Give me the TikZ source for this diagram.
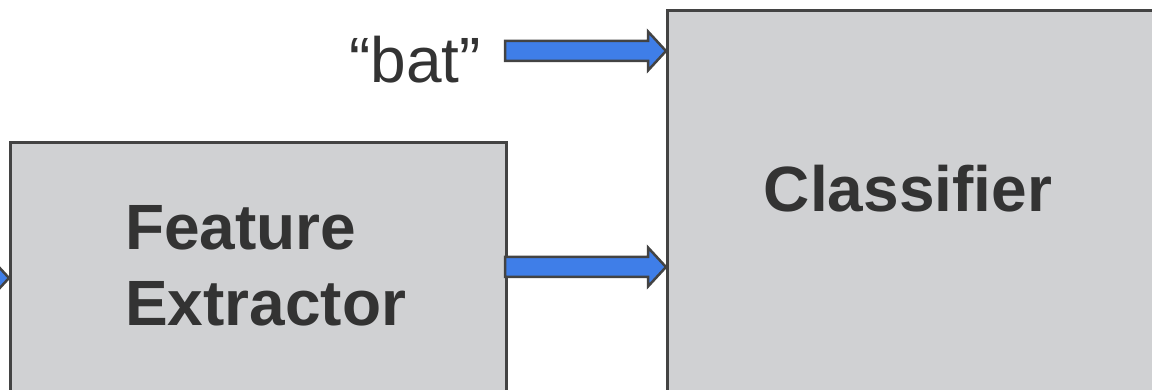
\documentclass[tikz,border=0pt]{standalone}
\usepackage{fontspec}
\setmainfont{Liberation Sans}
\usetikzlibrary{calc}
\definecolor{boxfill}{HTML}{D0D1D3}
\definecolor{boxline}{HTML}{434343}
\definecolor{txt}{HTML}{333333}
\definecolor{arrfill}{HTML}{3F7EE8}
\begin{document}
\begin{tikzpicture}[x=1pt,y=1pt,
  block/.style={draw=boxline,fill=boxfill,line width=3pt,inner sep=0pt,anchor=north west},
  lbl/.style={text=txt,inner sep=0pt,font=\fontsize{64}{77}\selectfont},
  blockarrow/.style={draw=boxline,fill=arrfill,line width=2.5pt,line join=miter,
    to path={let \p1=(\tikztostart), \p2=(\tikztotarget) in
      (\x1,\y1+10pt) -- (\x2-18pt,\y1+10pt) -- (\x2-18pt,\y1+19.5pt) -- (\x2,\y1)
      -- (\x2-18pt,\y1-19.5pt) -- (\x2-18pt,\y1-10pt) -- (\x1,\y1-10pt) -- cycle}}]
\useasboundingbox (0,0) rectangle (1152,-390);
\node[block,minimum width=496pt,minimum height=280pt] (fe) at (9,-141) {};
\node[block,minimum width=520pt,minimum height=420pt] (cl) at (666,-9) {};
\node[lbl,font=\fontsize{64}{77}\selectfont\bfseries,align=left,anchor=base west] (fet) at (125,-326) {Feature\\Extractor};
\node[lbl,font=\fontsize{64}{77}\selectfont\bfseries,anchor=base] (clt) at (908,-212) {Classifier};
\node[lbl,anchor=base] (bat) at (415,-83) {“bat”};
\coordinate (s1) at (505,-51);
\coordinate (s2) at (505,-267);
\coordinate (s0) at (-60,-278);
\path[blockarrow] (s1) to (cl.west |- s1);
\path[blockarrow] (s2) to (cl.west |- s2);
\path[blockarrow] (s0) to (fe.west |- s0);
\end{tikzpicture}
\end{document}
